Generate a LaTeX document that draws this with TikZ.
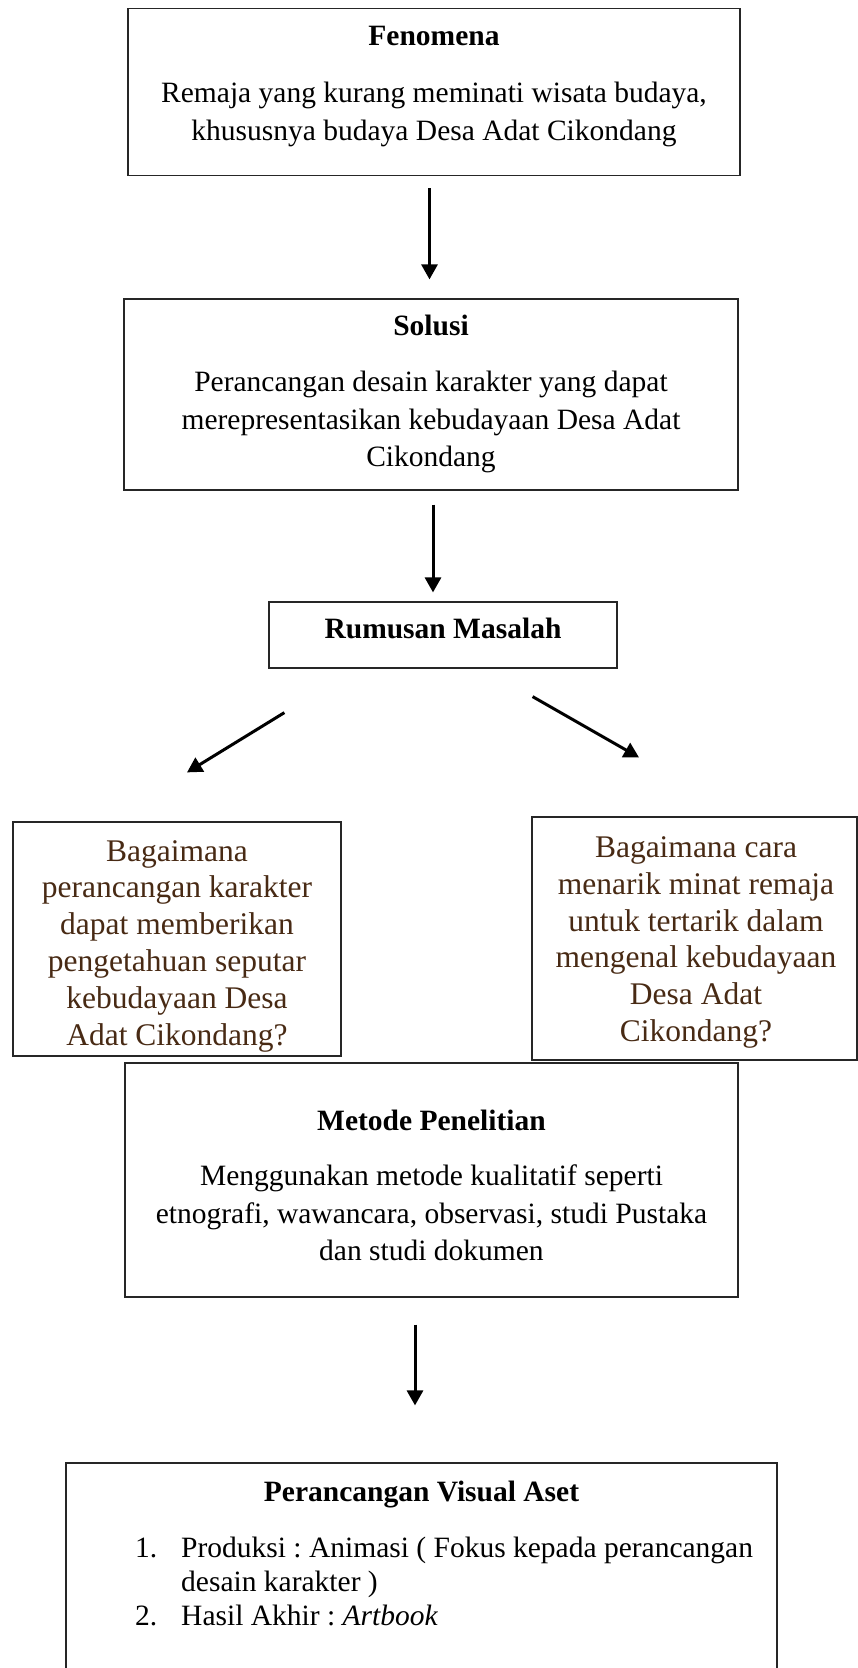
\documentclass[tikz,border=0pt]{standalone}
\usepackage{fontspec}
\setmainfont{Liberation Serif}
\usetikzlibrary{arrows.meta,positioning,calc}
\definecolor{qbrown}{RGB}{72,42,20}
\frenchspacing

\begin{document}
\begin{tikzpicture}[x=1pt,y=-1pt,every node/.style={inner sep=0pt},
 frame/.style={draw=black!85,line width=1.2pt},
 ttl/.style={font=\fontsize{29.5}{37}\selectfont\bfseries,anchor=base},
 txt/.style={font=\fontsize{29.5}{37.5}\selectfont,align=center,anchor=north},
 qtxt/.style={font=\fontsize{31.5}{36.8}\selectfont,text=qbrown,align=center,anchor=north},
 item/.style={font=\fontsize{29.5}{34}\selectfont,anchor=base west},
 arr/.style={-{Triangle[length=15pt,width=16pt]},line width=3pt}]
\useasboundingbox (0,0) rectangle (858,1668);

% frames
\node[frame,minimum width=612pt,minimum height=167pt] (fen) at (434,92) {};
\node[frame,minimum width=614pt,minimum height=191pt] (sol) at (431,394.5) {};
\node[frame,minimum width=348pt,minimum height=66pt] (rum) at (443,635) {};
\node[frame,minimum width=328pt,minimum height=234pt] (q1) at (177,939) {};
\node[frame,minimum width=325pt,minimum height=243pt] (q2) at (694.5,938.5) {};
\node[frame,minimum width=613pt,minimum height=234pt] (met) at (431.5,1180) {};
\node[frame,minimum width=711pt,minimum height=237pt] (vis) at (421.5,1581.5) {};

% texts
\node[ttl] (fen-t) at (434,45) {Fenomena};
\node[txt] (fen-b) at (434,82) {Remaja yang kurang meminati wisata budaya,\\ khususnya budaya Desa Adat Cikondang};
\node[ttl] (sol-t) at (431,335) {Solusi};
\node[txt] (sol-b) at (431,371) {Perancangan desain karakter yang dapat\\ merepresentasikan kebudayaan Desa Adat\\ Cikondang};
\node[ttl] (rum-t) at (443,638) {Rumusan Masalah};
\node[qtxt] (q1-b) at (177,840) {Bagaimana\\ perancangan karakter\\ dapat memberikan\\ pengetahuan seputar\\ kebudayaan Desa\\ Adat Cikondang?};
\node[qtxt] (q2-b) at (696,836.5) {Bagaimana cara\\ menarik minat remaja\\ untuk tertarik dalam\\ mengenal kebudayaan\\ Desa Adat\\ Cikondang?};
\node[ttl] (met-t) at (431.5,1130) {Metode Penelitian};
\node[txt] (met-b) at (431.5,1165) {Menggunakan metode kualitatif seperti\\ etnografi, wawancara, observasi, studi Pustaka\\ dan studi dokumen};
\node[ttl] (vis-t) at (421.5,1501) {Perancangan Visual Aset};
\node[item] (vis-n1) at (135,1557) {1.};
\node[item] (vis-i1) at (181,1557) {Produksi : Animasi ( Fokus kepada perancangan};
\node[item] (vis-i1b) at (181,1591) {desain karakter )};
\node[item] (vis-n2) at (135,1625) {2.};
\node[item] (vis-i2) at (181,1625) {Hasil Akhir : \textit{Artbook}};

% arrows
\draw[arr] ([xshift=-4.5pt,yshift=-12pt]fen.south) -- ([xshift=-1.5pt,yshift=19pt]sol.north);
\draw[arr] ([xshift=2pt,yshift=-14pt]sol.south) -- ([xshift=-10pt,yshift=9pt]rum.north);
\draw[arr] ([xshift=16pt,yshift=-44pt]rum.south west) -- ([xshift=10pt,yshift=49pt]q1.north);
\draw[arr] ([xshift=-85pt,yshift=-28pt]rum.south east) -- ([xshift=-55.5pt,yshift=59pt]q2.north);
\draw[arr] ([xshift=-16.5pt,yshift=-27pt]met.south) -- ([xshift=-6.5pt,yshift=57pt]vis.north);
\end{tikzpicture}
\end{document}
